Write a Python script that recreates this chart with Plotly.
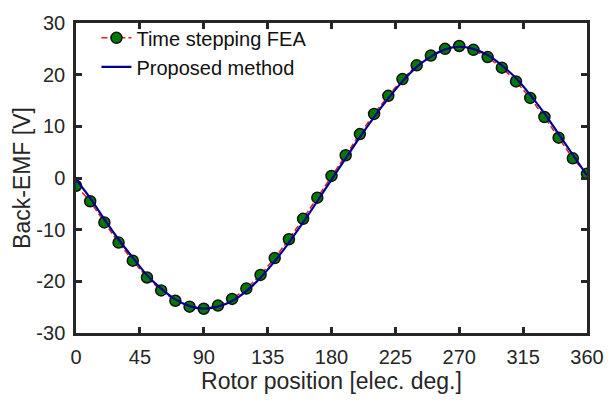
import plotly.graph_objects as go

deg = list(range(0, 361, 10))
fea = [-1.5, -4.5, -8.6, -12.5, -16.0, -19.25, -21.75, -23.76, -24.9, -25.3,
       -24.7, -23.4, -21.4, -18.75, -15.5, -11.85, -7.9, -3.8, 0.4, 4.4,
       8.5, 12.4, 15.9, 19.15, 21.8, 23.7, 25.0, 25.55, 24.8, 23.4,
       21.35, 18.7, 15.5, 11.8, 7.8, 3.8, 0.8]
proposed = [-0.3, -3.9, -8.0, -11.9, -15.4, -18.8, -21.4, -23.5, -24.8, -25.3,
            -24.9, -23.8, -21.9, -19.3, -16.1, -12.5, -8.6, -4.5, -0.3, 3.8,
            7.9, 11.8, 15.4, 18.7, 21.5, 23.5, 24.9, 25.4, 25.0, 23.8,
            21.8, 19.3, 16.1, 12.5, 8.5, 4.5, 0.5]
xticks = [0, 45, 90, 135, 180, 225, 270, 315, 360]
yticks = [-30, -20, -10, 0, 10, 20, 30]
yticklabels = ["-30", "-20", "-10", "0", "10", "20", "30"]

FONT = "Liberation Sans, Arial"
fig = go.Figure()
fig.add_trace(go.Scatter(
    x=deg, y=fea, name="Time stepping FEA", mode="lines+markers",
    line=dict(color="#e01b1b", width=1.5, dash="6px,3px"),
    marker=dict(color="#007a00", size=11, line=dict(color="#111111", width=1.5)),
))
fig.add_trace(go.Scatter(
    x=deg, y=proposed, name="Proposed method", mode="lines",
    line=dict(color="#00008c", width=2.2, shape="spline"),
))

axis_common = dict(
    showline=True, linecolor="#262626", linewidth=2.5, mirror="ticks",
    ticks="inside", ticklen=6, tickwidth=2.5, tickcolor="#262626",
    showgrid=False, zeroline=False,
    tickfont=dict(family=FONT, size=20, color="#262626"),
)
fig.update_xaxes(range=[0, 360], tickvals=xticks, ticklabelstandoff=4,
                 title=dict(text="Rotor position [elec. deg.]",
                            font=dict(family=FONT, size=23, color="#262626"),
                            standoff=2),
                 **axis_common)
fig.update_yaxes(range=[-30, 30], tickvals=yticks, ticktext=yticklabels,
                 ticklabelstandoff=4,
                 title=dict(text="Back-EMF [V]",
                            font=dict(family=FONT, size=23, color="#262626"),
                            standoff=0),
                 **axis_common)
fig.update_layout(
    width=616, height=404,
    margin=dict(l=76, r=20, t=14, b=71),
    plot_bgcolor="white", paper_bgcolor="white",
    legend=dict(x=0.04, y=1.015, xanchor="left", yanchor="top",
                bgcolor="rgba(255,255,255,0)",
                font=dict(family=FONT, size=20, color="#111111"),
                tracegroupgap=0, itemwidth=30),
    showlegend=True,
)
fig.write_html("out.html")
